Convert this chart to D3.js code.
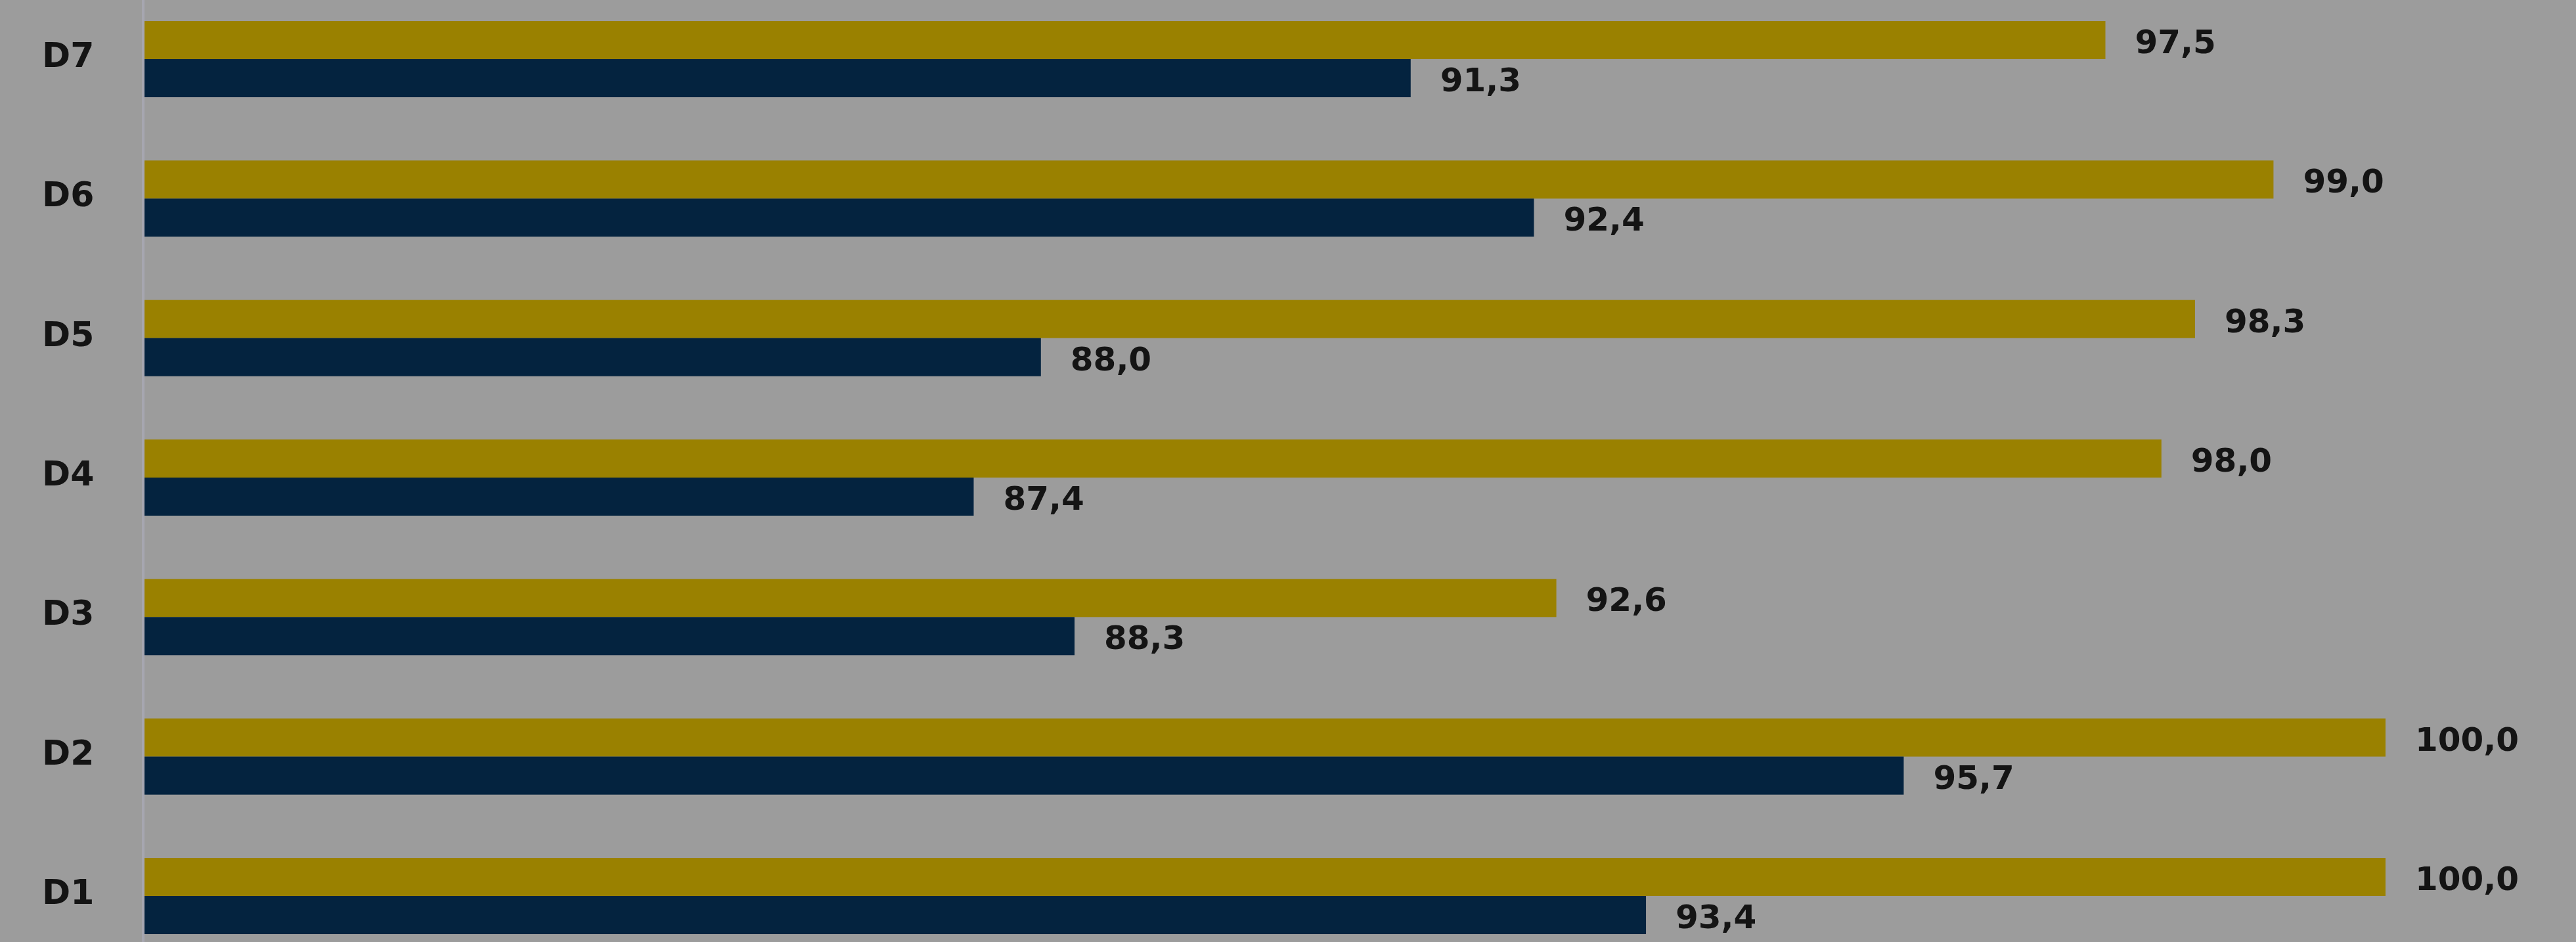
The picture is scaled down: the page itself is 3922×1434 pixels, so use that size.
<!DOCTYPE html>
<html>
<head>
<meta charset="utf-8">
<script src="https://cdn.jsdelivr.net/npm/d3@7"></script>
<style>
  html, body { margin: 0; padding: 0; background: #9c9c9c; }
  svg { display: block; }
  text { font-family: "DejaVu Sans", Verdana, sans-serif; font-weight: bold; fill: #141414; }
</style>
</head>
<body>
<svg id="chart"></svg>
<script>
const categories = ["D7", "D6", "D5", "D4", "D3", "D2", "D1"];
const seriesGold = [97.5, 99.0, 98.3, 98.0, 92.6, 100.0, 100.0];
const seriesNavy = [91.3, 92.4, 88.0, 87.4, 88.3, 95.7, 93.4];
const seriesKeys = ["gold", "navy"];
const colors = { gold: "#9a8100", navy: "#04233f" };

const W = 3922, H = 1434;
const svg = d3.select("#chart").attr("width", W).attr("height", H);
svg.append("rect").attr("width", W).attr("height", H).attr("fill", "#9c9c9c");

const x = d3.scaleLinear().domain([80, 100]).range([220, 3632]);
const y = d3.scalePoint().domain(categories).range([90, 1364]);
const sub = d3.scaleBand().domain(seriesKeys).range([-58, 58]);

const data = categories.map((c, i) => ({ cat: c, gold: seriesGold[i], navy: seriesNavy[i] }));
const fmt = v => d3.format(".1f")(v).replace(".", ",");

// subtle axis line at bar origin
svg.append("line")
  .attr("x1", x(80) - 2).attr("x2", x(80) - 2)
  .attr("y1", 0).attr("y2", H)
  .attr("stroke", "#a6a6b0").attr("stroke-width", 4);

const g = svg.append("g");
const groups = g.selectAll("g.grp").data(data).join("g")
  .attr("class", "grp")
  .attr("transform", d => `translate(0,${y(d.cat)})`);

groups.selectAll("rect").data(d => seriesKeys.map(k => ({ key: k, value: d[k] }))).join("rect")
  .attr("x", x(80))
  .attr("y", d => sub(d.key))
  .attr("width", d => x(d.value) - x(80))
  .attr("height", sub.bandwidth())
  .attr("fill", d => colors[d.key]);

groups.selectAll("text.val").data(d => seriesKeys.map(k => ({ key: k, value: d[k] }))).join("text")
  .attr("class", "val")
  .attr("x", d => x(d.value) + 45)
  .attr("y", d => sub(d.key) + sub.bandwidth() / 2 + 3)
  .attr("dominant-baseline", "central")
  .attr("font-size", 50)
  .text(d => fmt(d.value));

// category labels
svg.append("g").selectAll("text").data(categories).join("text")
  .attr("x", 64)
  .attr("y", d => y(d) - 6)
  .attr("dominant-baseline", "central")
  .attr("font-size", 52)
  .text(d => d);
</script>
</body>
</html>
